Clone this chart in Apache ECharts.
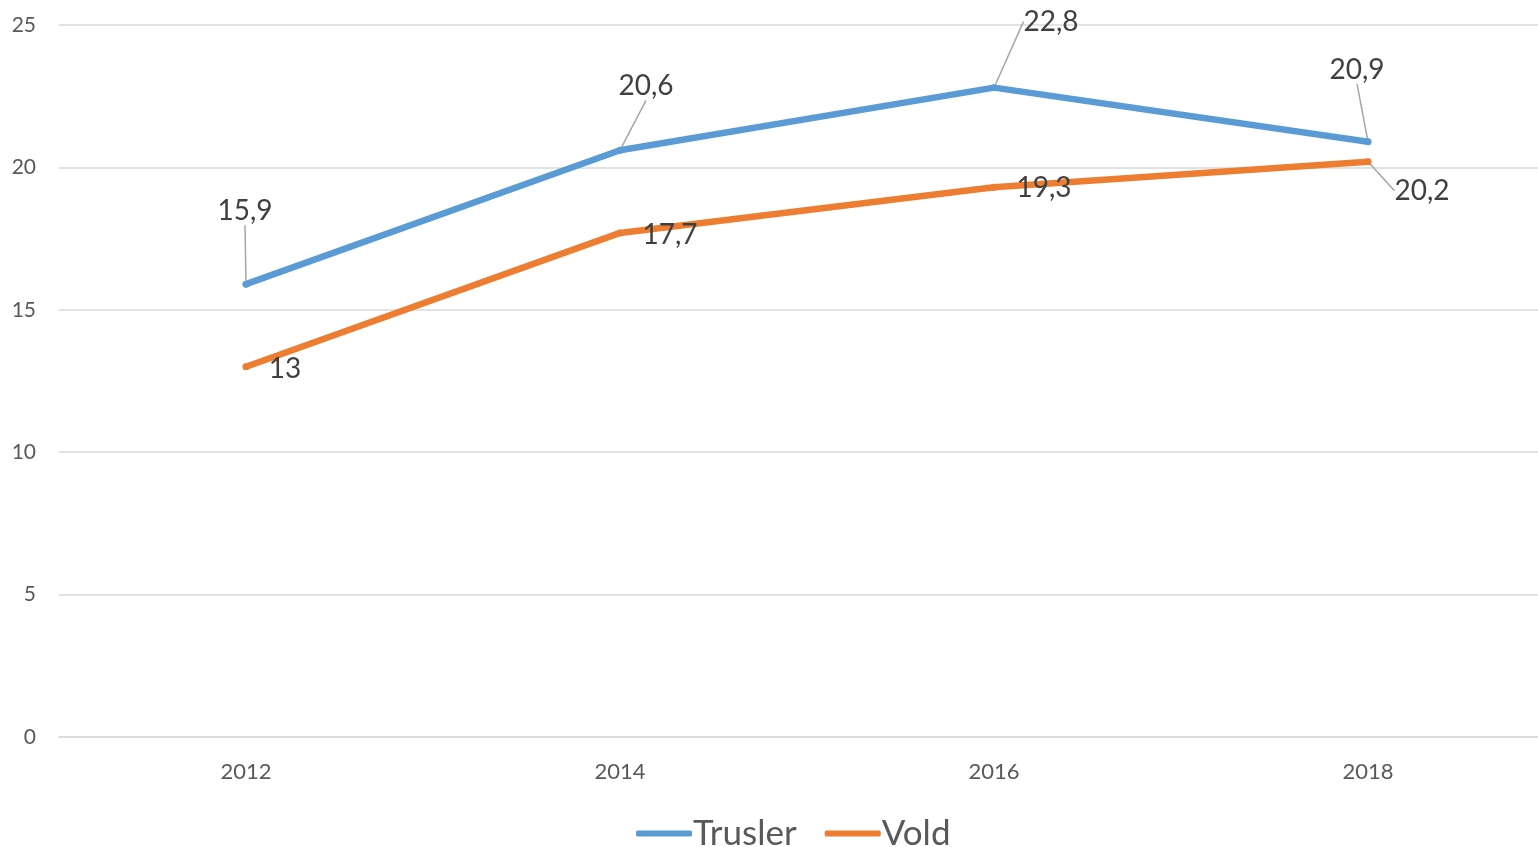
<!DOCTYPE html>
<html>
<head>
    <meta charset="utf-8">
    <title>Trusler og vold</title>
    <script src="https://cdn.jsdelivr.net/npm/echarts@6/dist/echarts.min.js"></script>
    <style>
        body { margin: 0; background: #fff; }
    </style>
</head>
<body>
    <div id="main" style="width: 1538px;height:847px;"></div>
    <script type="text/javascript">
        var years = [2012, 2014, 2016, 2018];
        var trusler = [15.9, 20.6, 22.8, 20.9];
        var vold = [13, 17.7, 19.3, 20.2];
        var yTicks = [0, 5, 10, 15, 20, 25];

        // label offsets (Excel-style moved labels)
        var truslerOffsets = [[-1, -73], [26, -64], [57, -66], [-11, -72]];
        var voldOffsets = [[39, 2], [50, 2], [50, 1], [54, 29]];
        var voldLeader = [false, false, false, true];

        var fmt = function (p) { return String(p.value[1]).replace('.', ','); };

        var myChart = echarts.init(document.getElementById('main'));

        // x axis: the plot area in the original runs past the right edge,
        // so half a category band is left before 2012 and cut after 2018
        var option = {
            animation: false,
            textStyle: { fontFamily: 'Lato' },
            grid: { left: 59, right: 0, top: 25, bottom: 110 },
            legend: {
                bottom: -9,
                left: 631,
                itemWidth: 56,
                itemHeight: 6,
                itemGap: 28,
                icon: 'roundRect',
                textStyle: { fontSize: 35, color: '#595959', fontFamily: 'Lato', padding: [0, 0, 0, -4] },
                data: ['Trusler', 'Vold']
            },
            xAxis: {
                type: 'value',
                min: 2011,
                max: 2018.909,
                axisLine: { lineStyle: { color: '#d9d9d9', width: 1.5 } },
                axisTick: { show: false },
                splitLine: { show: false },
                axisLabel: {
                    fontSize: 22, color: '#595959', margin: 24, customValues: years,
                    formatter: function (v) { return String(v); }
                }
            },
            yAxis: {
                type: 'value',
                min: yTicks[0],
                max: yTicks[yTicks.length - 1],
                interval: 5,
                axisLine: { show: false },
                axisTick: { show: false },
                axisLabel: { fontSize: 21, color: '#595959', margin: 23 },
                splitLine: { lineStyle: { color: '#d9d9d9', width: 1.5 } }
            },
            series: [
                {
                    name: 'Trusler',
                    type: 'line',
                    data: years.map(function (y, i) { return [y, trusler[i]]; }),
                    symbol: 'circle',
                    symbolSize: 7,
                    color: '#5B9BD5',
                    lineStyle: { width: 6.5, cap: 'round', join: 'round' },
                    label: {
                        show: true,
                        position: 'inside',
                        fontSize: 28,
                        color: '#404040',
                        fontFamily: 'Lato',
                        formatter: fmt
                    },
                    labelLine: { show: true, lineStyle: { color: '#a6a6a6', width: 1.5 } },
                    labelLayout: function (p) {
                        var o = truslerOffsets[p.dataIndex];
                        return { dx: o[0], dy: o[1] };
                    }
                },
                {
                    name: 'Vold',
                    type: 'line',
                    data: years.map(function (y, i) {
                        return { value: [y, vold[i]], labelLine: { show: voldLeader[i] } };
                    }),
                    symbol: 'circle',
                    symbolSize: 7,
                    color: '#ED7D31',
                    lineStyle: { width: 6.5, cap: 'round', join: 'round' },
                    label: {
                        show: true,
                        position: 'inside',
                        fontSize: 28,
                        color: '#404040',
                        fontFamily: 'Lato',
                        formatter: fmt
                    },
                    labelLine: { show: true, lineStyle: { color: '#a6a6a6', width: 1.5 } },
                    labelLayout: function (p) {
                        var o = voldOffsets[p.dataIndex];
                        return { dx: o[0], dy: o[1] };
                    }
                }
            ]
        };

        myChart.setOption(option);
    </script>
</body>
</html>
